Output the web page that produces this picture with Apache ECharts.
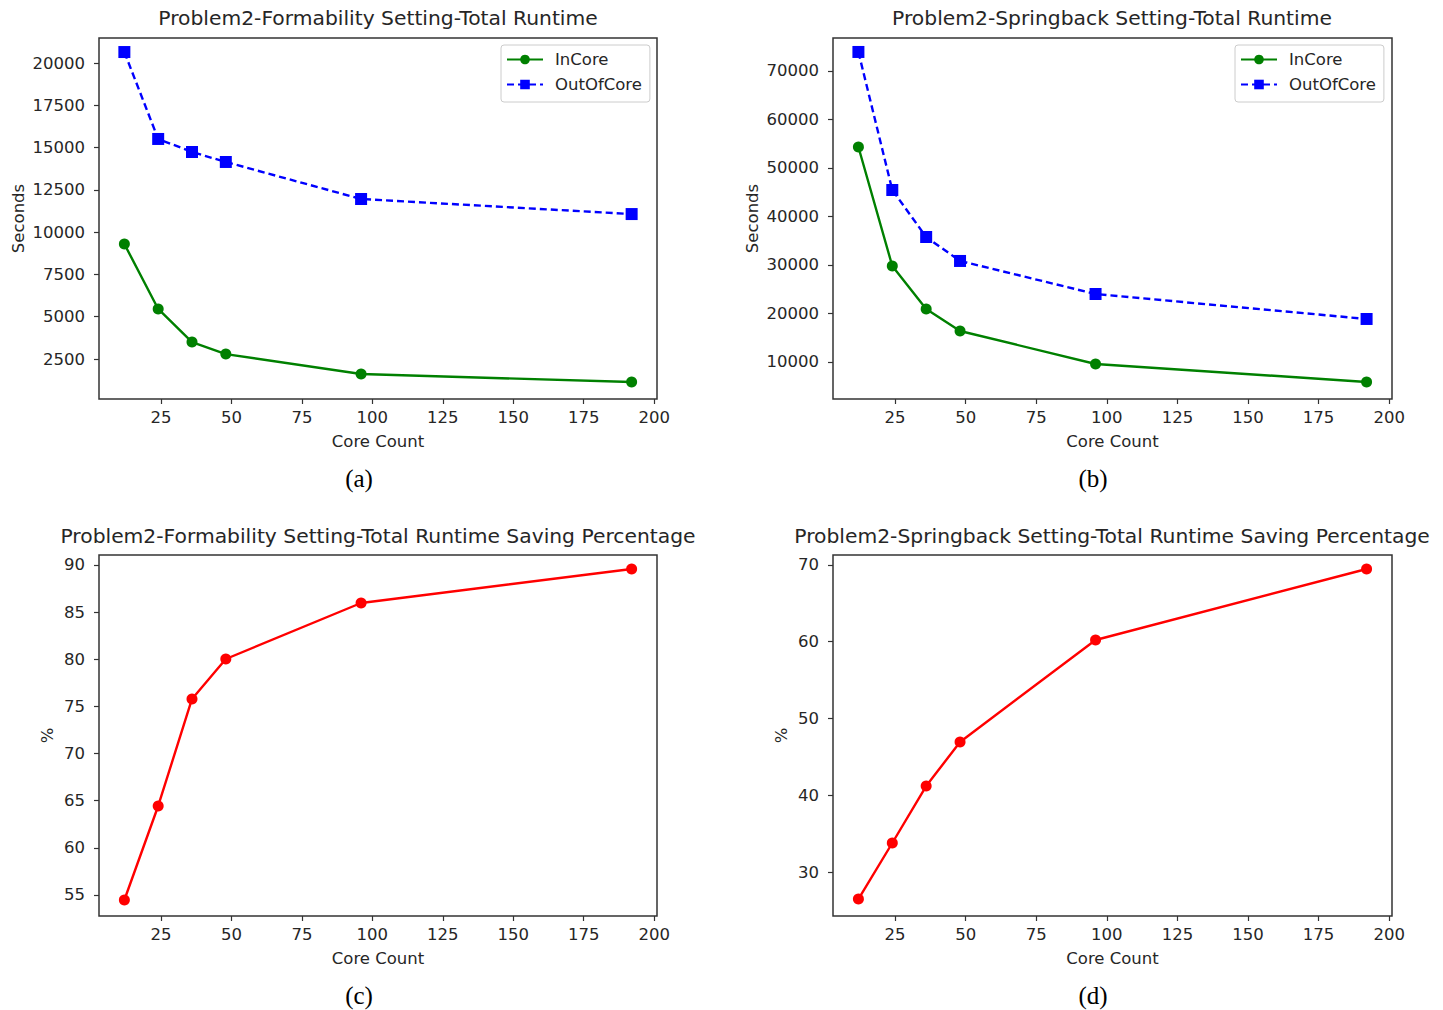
<!DOCTYPE html>
<html>
<head>
<meta charset="utf-8">
<script src="https://cdn.jsdelivr.net/npm/echarts@6/dist/echarts.min.js"></script>
<style>html,body{margin:0;padding:0;background:#fff;}#c{width:1443px;height:1010px;}</style>
</head>
<body>
<div id="c"></div>
<script>
const coreCounts = [12, 24, 36, 48, 96, 192];
const formInCore = [9300, 5460, 3500, 2790, 1610, 1140];
const formOutOfCore = [20650, 15510, 14740, 14150, 11960, 11070];
const springInCore = [54330, 29790, 20930, 16390, 9590, 5880];
const springOutOfCore = [73920, 45460, 35770, 30830, 24020, 18870];
const formSaving = [54.47, 64.44, 75.79, 80.03, 85.97, 89.58];
const springSaving = [26.48, 33.78, 41.2, 46.94, 60.23, 69.48];
const xTicks = [25, 50, 75, 100, 125, 150, 175, 200];
const formYTicks = [2500, 5000, 7500, 10000, 12500, 15000, 17500, 20000];
const springYTicks = [10000, 20000, 30000, 40000, 50000, 60000, 70000];
const formPctTicks = [55, 60, 65, 70, 75, 80, 85, 90];
const springPctTicks = [30, 40, 50, 60, 70];

const titles = [
  'Problem2-Formability Setting-Total Runtime',
  'Problem2-Springback Setting-Total Runtime',
  'Problem2-Formability Setting-Total Runtime Saving Percentage',
  'Problem2-Springback Setting-Total Runtime Saving Percentage'
];
const captions = ['(a)', '(b)', '(c)', '(d)'];

const FONT = 'DejaVu Sans';
const TXT = '#262626';
const FRAME = '#333';
const LBL = 16.5;

const grids = [
  {left: 99, top: 38, width: 558, height: 361},
  {left: 833, top: 38, width: 559, height: 361},
  {left: 99, top: 555, width: 558, height: 361},
  {left: 833, top: 555, width: 559, height: 361}
].map(g => Object.assign(g, {show: true, borderColor: FRAME, borderWidth: 1.5, backgroundColor: 'transparent'}));

function pairs(arr) { return coreCounts.map((c, i) => [c, arr[i]]); }
const plain = v => String(v);

function xAxis(gi) {
  return {
    type: 'value', gridIndex: gi, min: 3, max: 201,
    name: 'Core Count', nameLocation: 'middle', nameGap: 34,
    nameTextStyle: {fontSize: LBL, color: TXT, fontFamily: FONT},
    axisLine: {show: false},
    axisTick: {show: true, inside: false, length: 5, customValues: xTicks, lineStyle: {color: FRAME, width: 1.2}},
    axisLabel: {customValues: xTicks, formatter: plain, margin: 10, fontSize: LBL, color: TXT, fontFamily: FONT},
    splitLine: {show: false}
  };
}
function yAxis(gi, min, max, ticks, name, gap) {
  return {
    type: 'value', gridIndex: gi, min: min, max: max,
    name: name, nameLocation: 'middle', nameGap: gap,
    nameTextStyle: {fontSize: LBL, color: TXT, fontFamily: FONT},
    axisLine: {show: false},
    axisTick: {show: true, inside: false, length: 5, customValues: ticks, lineStyle: {color: FRAME, width: 1.2}},
    axisLabel: {customValues: ticks, formatter: plain, margin: 14, fontSize: LBL, color: TXT, fontFamily: FONT},
    splitLine: {show: false}
  };
}

function inCore(gi, data) {
  return {
    name: 'InCore', type: 'line', xAxisIndex: gi, yAxisIndex: gi, data: pairs(data),
    symbol: 'circle', symbolSize: 11, showAllSymbol: true,
    lineStyle: {color: '#008000', width: 2.4}, itemStyle: {color: '#008000'},
    animation: false
  };
}
function outCore(gi, data) {
  return {
    name: 'OutOfCore', type: 'line', xAxisIndex: gi, yAxisIndex: gi, data: pairs(data),
    symbol: 'rect', symbolSize: 12, showAllSymbol: true,
    lineStyle: {color: '#0000ff', width: 2.4, type: [7, 4]}, itemStyle: {color: '#0000ff'},
    animation: false
  };
}
function saving(gi, data) {
  return {
    name: 'Saving', type: 'line', xAxisIndex: gi, yAxisIndex: gi, data: pairs(data),
    symbol: 'circle', symbolSize: 11, showAllSymbol: true,
    lineStyle: {color: '#ff0000', width: 2.4}, itemStyle: {color: '#ff0000'},
    animation: false
  };
}

function legend(left) {
  return {
    left: left, top: 45, orient: 'vertical',
    data: ['InCore', 'OutOfCore'],
    itemWidth: 36, itemHeight: 12, itemGap: 8,
    padding: [6, 8, 9, 5],
    borderColor: '#cccccc', borderWidth: 1, borderRadius: 3, backgroundColor: 'rgba(255,255,255,0.8)',
    textStyle: {fontSize: LBL, color: TXT, fontFamily: FONT, padding: [0, 0, 0, 7]}
  };
}

const titleCenters = [[378, 18], [1112, 18], [378, 536], [1112, 536]];
const captionCenters = [[359, 478], [1093, 478], [359, 995], [1093, 995]];

const graphic = [];
titles.forEach((t, i) => graphic.push({
  type: 'text', x: titleCenters[i][0], y: titleCenters[i][1], silent: true,
  style: {text: t, fontSize: 20.3, fontFamily: FONT, fill: TXT, textAlign: 'center', textVerticalAlign: 'middle'}
}));
captions.forEach((t, i) => graphic.push({
  type: 'text', x: captionCenters[i][0], y: captionCenters[i][1], silent: true,
  style: {text: t, fontSize: 25, fontFamily: 'Liberation Serif', fill: '#000', textAlign: 'center', textVerticalAlign: 'middle'}
}));

const chart = echarts.init(document.getElementById('c'), null, {renderer: 'svg'});
chart.setOption({
  animation: false,
  backgroundColor: '#fff',
  grid: grids,
  legend: [legend(501), legend(1235)],
  xAxis: [xAxis(0), xAxis(1), xAxis(2), xAxis(3)],
  yAxis: [
    yAxis(0, 135, 21480, formYTicks, 'Seconds', 72),
    yAxis(1, 2370, 76800, springYTicks, 'Seconds', 72),
    yAxis(2, 52.77, 91.06, formPctTicks, '%', 43),
    yAxis(3, 24.27, 71.3, springPctTicks, '%', 43)
  ],
  series: [
    inCore(0, formInCore), outCore(0, formOutOfCore),
    inCore(1, springInCore), outCore(1, springOutOfCore),
    saving(2, formSaving), saving(3, springSaving)
  ],
  graphic: graphic
});
</script>
</body>
</html>
